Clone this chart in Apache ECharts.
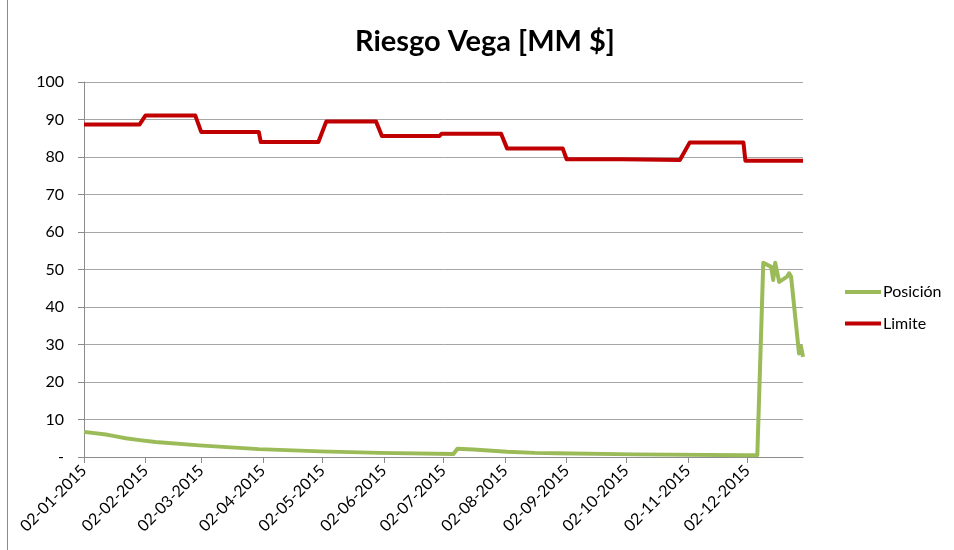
<!DOCTYPE html>
<html>
<head>
<meta charset="utf-8">
<script src="https://cdn.jsdelivr.net/npm/echarts@6/dist/echarts.min.js"></script>
<style>
html,body{margin:0;padding:0;background:#fff;}
#c{width:954px;height:550px;}
</style>
</head>
<body>
<div id="c"></div>
<script>
// ---- data ----
const chartTitle = 'Riesgo Vega [MM $]';
const seriesNames = ['Posición', 'Limite'];
const tickDates = ['2015-01-02','2015-02-02','2015-03-02','2015-04-02','2015-05-02','2015-06-02',
  '2015-07-02','2015-08-02','2015-09-02','2015-10-02','2015-11-02','2015-12-02'];
const axisStart = '2015-01-02';
const axisEnd = '2015-12-30';

const posDates = ['2015-01-02','2015-01-13','2015-01-16','2015-01-23','2015-01-30','2015-02-07',
  '2015-03-01','2015-03-31','2015-05-01','2015-05-31','2015-07-07','2015-07-09','2015-07-17',
  '2015-08-03','2015-08-17','2015-08-28','2015-10-06','2015-12-01','2015-12-07','2015-12-10',
  '2015-12-14','2015-12-15','2015-12-16','2015-12-18','2015-12-22','2015-12-23','2015-12-24',
  '2015-12-28','2015-12-29','2015-12-30'];
const posValues = [6.7, 6.0, 5.7, 5.0, 4.5, 4.0,
  3.1, 2.1, 1.5, 1.1, 0.8, 2.2, 2.0,
  1.4, 1.1, 1.0, 0.7, 0.45, 0.5, 51.8,
  50.7, 47.2, 51.8, 46.7, 48.1, 49.0, 48.1,
  27.6, 29.4, 26.7];

const limDates = ['2015-01-02','2015-01-30','2015-02-02','2015-02-27','2015-03-02','2015-03-31',
  '2015-04-01','2015-04-30','2015-05-04','2015-05-29','2015-06-01','2015-06-30','2015-07-01',
  '2015-07-31','2015-08-03','2015-08-31','2015-09-02','2015-09-30','2015-10-01','2015-10-29',
  '2015-11-03','2015-11-30','2015-12-01','2015-12-30'];
const limValues = [88.7, 88.7, 91.1, 91.1, 86.7, 86.7,
  84.0, 84.0, 89.5, 89.5, 85.6, 85.6, 86.2,
  86.2, 82.3, 82.3, 79.4, 79.4, 79.2, 79.2,
  83.9, 83.9, 79.0, 79.0];

const yMin = 0, yMax = 100, yStep = 10;

// ---- build ----
const P = s => { const a = s.split('-').map(Number); return Date.UTC(a[0], a[1] - 1, a[2]); };
const pad = n => (n < 10 ? '0' : '') + n;
const fmtDate = v => { const d = new Date(v); return pad(d.getUTCDate()) + '-' + pad(d.getUTCMonth() + 1) + '-' + d.getUTCFullYear(); };
const zip = (ds, vs) => ds.map((d, i) => [P(d), vs[i]]);

const FONT = 'Lato';
const chart = echarts.init(document.getElementById('c'), null, {renderer: 'canvas'});
chart.setOption({
  animation: false,
  backgroundColor: '#ffffff',
  textStyle: {fontFamily: FONT},
  title: {
    text: chartTitle,
    left: 480, top: 22, textAlign: 'center',
    textStyle: {fontFamily: FONT, fontWeight: 'bold', fontSize: 29, color: '#000'}
  },
  graphic: [{
    type: 'rect', silent: true,
    shape: {x: 7.5, y: -10, width: 1000, height: 600},
    style: {fill: 'none', stroke: '#8c8c8c', lineWidth: 1}
  }],
  legend: {
    orient: 'vertical', left: 845, top: 283, itemGap: 13.5, padding: 0,
    itemWidth: 36, itemHeight: 4, icon: 'rect',
    textStyle: {fontFamily: FONT, fontSize: 16, color: '#000', lineHeight: 18, padding: [0, 0, 0, -3]},
    data: seriesNames
  },
  grid: {left: 84, right: 151, top: 82, bottom: 93, containLabel: false},
  xAxis: {
    type: 'value',
    min: P(axisStart), max: P(axisEnd),
    axisLine: {show: true, onZero: false, lineStyle: {color: '#8c8c8c', width: 1}},
    axisTick: {show: true, length: 6, lineStyle: {color: '#8c8c8c'}, customValues: tickDates.map(P)},
    axisLabel: {
      rotate: 45, margin: 11, fontFamily: FONT, fontSize: 16, color: '#000',
      customValues: tickDates.map(P),
      formatter: v => fmtDate(v)
    },
    splitLine: {show: false}
  },
  yAxis: {
    type: 'value', min: yMin, max: yMax, interval: yStep,
    axisLine: {show: true, lineStyle: {color: '#8c8c8c', width: 1}},
    axisTick: {show: true, length: 6, lineStyle: {color: '#8c8c8c'}},
    axisLabel: {margin: 20, fontFamily: FONT, fontSize: 16, color: '#000',
      formatter: v => (v === 0 ? '-' : String(v))},
    splitLine: {show: true, lineStyle: {color: '#a6a6a6', width: 1}}
  },
  series: [
    {
      name: seriesNames[0], type: 'line', data: zip(posDates, posValues),
      showSymbol: false, symbol: 'none', smooth: false,
      lineStyle: {color: '#9bbb59', width: 4, join: 'round'},
      itemStyle: {color: '#9bbb59'}, z: 3
    },
    {
      name: seriesNames[1], type: 'line', data: zip(limDates, limValues),
      showSymbol: false, symbol: 'none', smooth: false,
      lineStyle: {color: '#c00000', width: 4, join: 'round'},
      itemStyle: {color: '#c00000'}, z: 2
    }
  ]
});
</script>
</body>
</html>
